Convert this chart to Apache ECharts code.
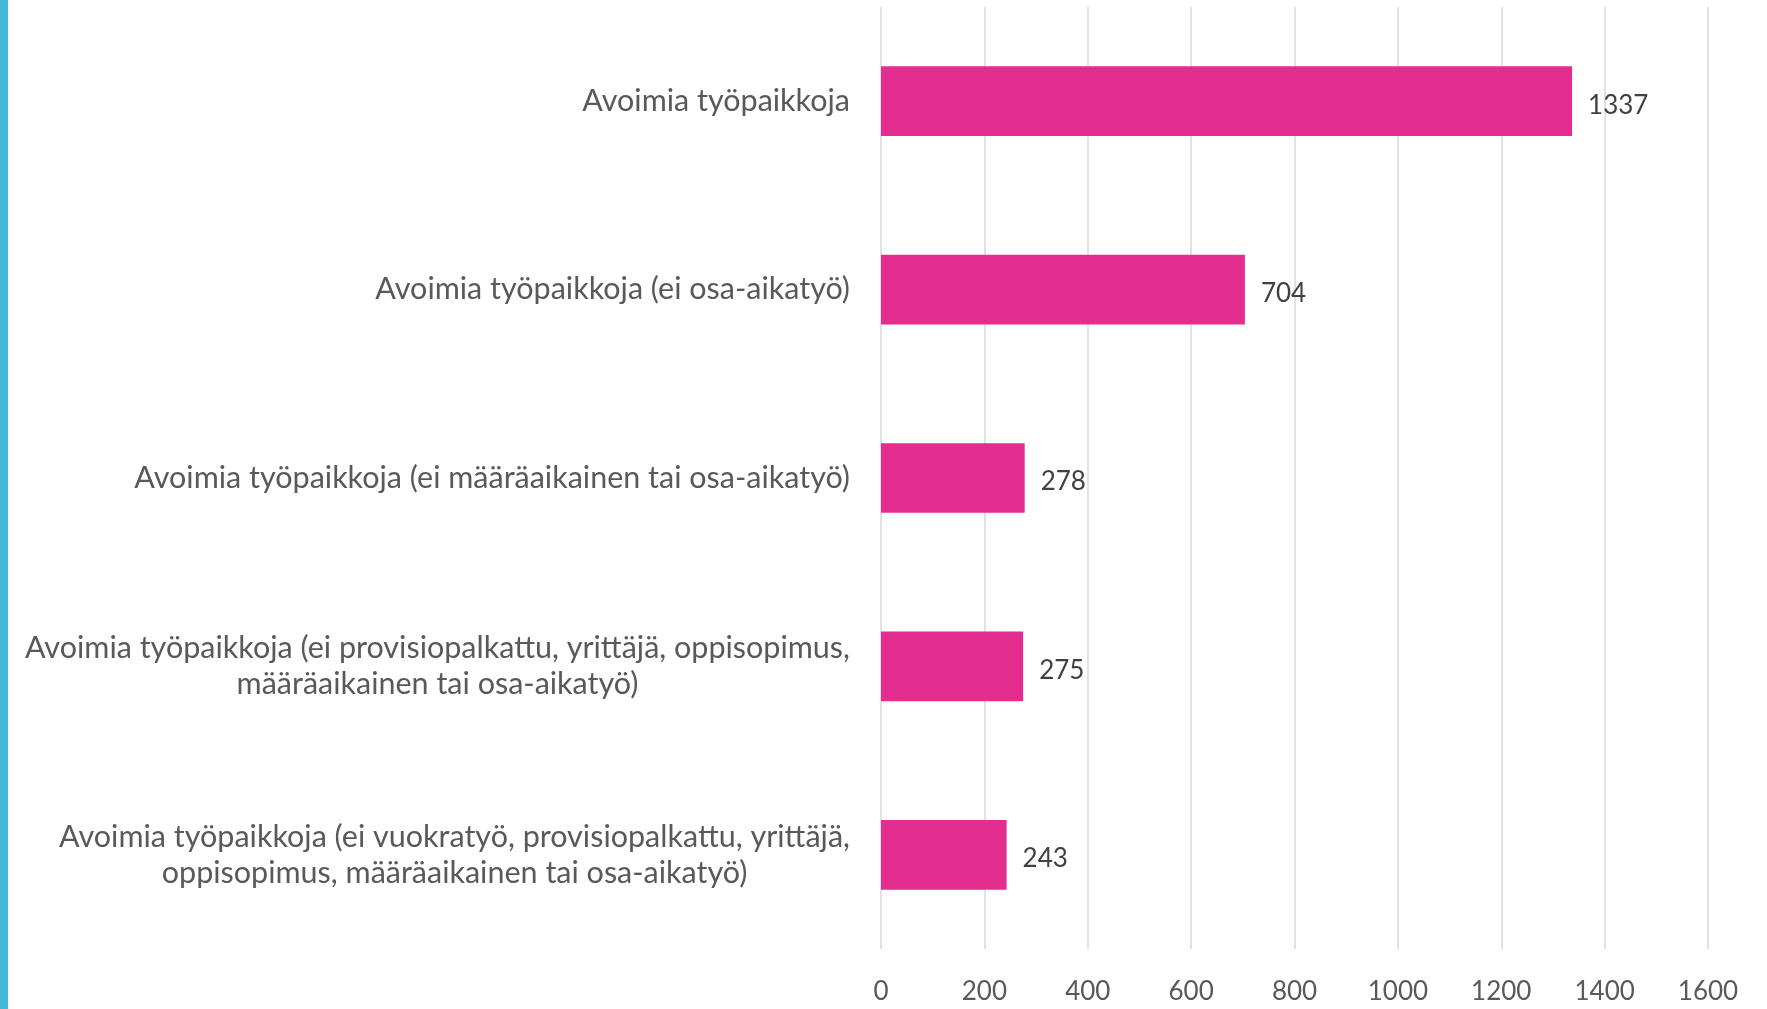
<!DOCTYPE html>
<html>
<head>
<meta charset="utf-8">
<script src="https://cdn.jsdelivr.net/npm/echarts@6/dist/echarts.min.js"></script>
<style>
  html, body { margin: 0; padding: 0; background: #fff; }
  #chart { width: 1767px; height: 1009px; }
</style>
</head>
<body>
<div id="chart"></div>
<script>
// categories, top to bottom as in the picture
const categories = [
    'Avoimia työpaikkoja',
    'Avoimia työpaikkoja (ei osa-aikatyö)',
    'Avoimia työpaikkoja (ei määräaikainen tai osa-aikatyö)',
    'Avoimia työpaikkoja (ei provisiopalkattu, yrittäjä, oppisopimus,\nmääräaikainen tai osa-aikatyö)',
    'Avoimia työpaikkoja (ei vuokratyö, provisiopalkattu, yrittäjä,\noppisopimus, määräaikainen tai osa-aikatyö)'
]
const values = [1337, 704, 278, 275, 243]
const xTicks = { min: 0, max: 1600, interval: 200 }

const chart = echarts.init(document.getElementById('chart'))

const option = {
    backgroundColor: '#fff',
    animation: false,
    graphic: [{
        type: 'rect',
        shape: { x: 0, y: 0, width: 8, height: 1009 },
        style: { fill: '#41B8D5' }
    }],
    grid: {
        left: 881,
        right: 59,
        top: 7,
        bottom: 60
    },
    xAxis: {
        type: 'value',
        min: xTicks.min,
        max: xTicks.max,
        interval: xTicks.interval,
        axisLine: { show: false },
        axisTick: { show: false },
        splitLine: {
            show: true,
            lineStyle: { color: '#D9D9D9', width: 1.5 }
        },
        axisLabel: {
            color: '#595959',
            fontFamily: 'Lato',
            fontSize: 26,
            margin: 30,
            formatter: function (v) { return String(v) }
        }
    },
    yAxis: {
        type: 'category',
        inverse: true,
        data: categories,
        axisLine: { show: false },
        axisTick: { show: false },
        axisLabel: {
            margin: 31,
            align: 'right',
            formatter: function (v) {
                return v.split('\n').map(function (s) { return '{c|' + s + '}' }).join('\n')
            },
            rich: {
                c: {
                    align: 'center',
                    color: '#595959',
                    fontFamily: 'Lato',
                    fontSize: 30.5,
                    lineHeight: 36
                }
            }
        }
    },
    series: [{
        type: 'bar',
        data: values,
        barCategoryGap: '63%',
        itemStyle: { color: '#E32D8F' },
        label: {
            show: true,
            position: 'right',
            distance: 16,
            color: '#404040',
            fontFamily: 'Lato',
            fontSize: 26,
            offset: [0, 4]
        }
    }]
}
chart.setOption(option)
</script>
</body>
</html>
